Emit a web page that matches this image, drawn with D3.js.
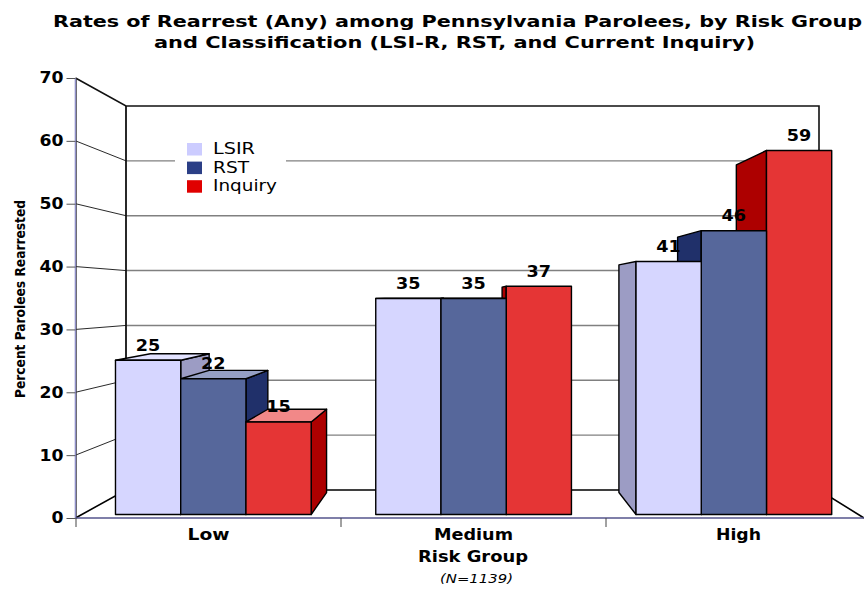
<!DOCTYPE html>
<html>
<head>
<meta charset="utf-8">
<script src="https://cdn.jsdelivr.net/npm/d3@7"></script>
<style>
  html, body { margin: 0; padding: 0; background: #fff; }
  text { font-family: "DejaVu Sans", sans-serif; fill: #000; }
</style>
</head>
<body>
<svg id="chart" width="864" height="591"></svg>
<script>
// Chart values
const categories = ["Low", "Medium", "High"];
const seriesNames = ["LSIR", "RST", "Inquiry"];
const lsirValues = [25, 35, 41];
const rstValues = [22, 35, 46];
const inquiryValues = [15, 37, 59];
const yTicks = [0, 10, 20, 30, 40, 50, 60, 70];
const titleLines = [
  "Rates of Rearrest (Any) among Pennsylvania Parolees, by Risk Group",
  "and Classification (LSI-R, RST, and Current Inquiry)"
];

const seriesValues = [lsirValues, rstValues, inquiryValues];

// Styling and text widths (labels are set wide, in the manner of Verdana)
const legendSwatch = ["#ccccff", "#2b3f86", "#e00000"];
const faceColors = [
  { front: "#d6d6ff", side: "#9c9cc4", top: "#e2e2ff" },
  { front: "#56679b", side: "#20306a", top: "#959fc4" },
  { front: "#e53535", side: "#ad0000", top: "#f28888" }
];
const titleLayout = [{ x: 53, y: 26.7, w: 809 }, { x: 154, y: 47.7, w: 601 }];
const categoryWidths = [42, 79, 45];
const legendWidths = [42, 36, 64];

const svg = d3.select("#chart");

// Box geometry: front plane of the axes and the rear wall
const frontLeft = 75.5, backLeft = 126, backRight = 819, frontRight = 864;
const yFront = d3.scaleLinear().domain([0, 70]).range([518, 78]);
const yBack = d3.scaleLinear().domain([0, 70]).range([490, 106]);

// Bars stand slightly behind the front plane and recede toward a vanishing point
const yBar = d3.scaleLinear().domain([0, 70]).range([514.5, 82.6]);
const xCat = d3.scaleBand().domain(categories).range([76, 871]);
const xBarCat = d3.scaleBand().domain(categories).range([83.2, 864]);
const barSpan = 195.7;
const barInset = (xBarCat.bandwidth() - barSpan) / 2;
const xSeries = d3.scaleBand().domain(seriesNames).range([0, barSpan]);
const vanish = { x: 465, y: 295 }, depth = 0.1;
const recede = (x, y) => [x + (vanish.x - x) * depth, y + (vanish.y - y) * depth];

const line = (pts, stroke, width) => svg.append("path")
  .attr("d", d3.line()(pts)).attr("fill", "none")
  .attr("stroke", stroke).attr("stroke-width", width);

// Grid lines on the side wall and rear wall
yTicks.filter(v => v > 0 && v < 70).forEach(v => {
  line([[frontLeft, yFront(v)], [backLeft, yBack(v)]], "#111", 0.9);
  line([[backLeft, yBack(v)], [backRight, yBack(v)]], "#808080", 1.4);
});

// Box outline
line([[frontLeft, yFront(70)], [backLeft, yBack(70)], [backRight, yBack(70)], [backRight, yBack(0)]], "#111", 1.6);
line([[backLeft, yBack(70)], [backLeft, yBack(0)]], "#111", 1.8);
line([[frontLeft, yFront(0)], [backLeft, yBack(0)], [backRight, yBack(0)], [frontRight, yFront(0)]], "#000", 1.6);

// Front axes
line([[frontLeft, yFront(70)], [frontLeft, yFront(0)]], "#8f8fc8", 1.6);
line([[frontLeft + 1, yFront(70)], [frontLeft + 1, yFront(0)]], "#222", 0.6);
line([[frontLeft, yFront(0)], [frontRight, yFront(0)]], "#55558c", 1.3);

const yAxis = d3.axisLeft(yFront).tickValues(yTicks).tickSize(9).tickPadding(3).tickFormat(d3.format("d"));
const yG = svg.append("g").attr("transform", `translate(${frontLeft},0)`).call(yAxis);
yG.select(".domain").remove();
yG.selectAll("line").attr("stroke", "#555").attr("stroke-width", 1);
yG.selectAll("text").attr("font-size", 15.5).attr("font-weight", "bold")
  .style("font-family", "'DejaVu Sans'")
  .attr("textLength", d => String(d).length * 12).attr("lengthAdjust", "spacingAndGlyphs");

const xAxis = d3.axisBottom(xCat).tickSize(0).tickPadding(10.2);
const xG = svg.append("g").attr("transform", `translate(0,${yFront(0) + 1})`).call(xAxis);
xG.select(".domain").remove();
xG.selectAll("text").attr("font-size", 15.5).attr("font-weight", "bold")
  .style("font-family", "'DejaVu Sans'")
  .attr("textLength", (d, i) => categoryWidths[i]).attr("lengthAdjust", "spacingAndGlyphs");
// Category separators sit on the band edges, not the band centres
svg.append("g").selectAll("line").data(categories).join("line")
  .attr("x1", d => xCat(d)).attr("x2", d => xCat(d))
  .attr("y1", yFront(0)).attr("y2", yFront(0) + 9)
  .attr("stroke", "#444").attr("stroke-width", 1);

// Legend panel blanks the grid behind it
svg.append("rect").attr("x", 175).attr("y", 136).attr("width", 111).attr("height", 60).attr("fill", "#fff");
seriesNames.forEach((name, i) => {
  svg.append("rect").attr("x", 187).attr("y", 143 + i * 18.6).attr("width", 15).attr("height", 12.5).attr("fill", legendSwatch[i]);
  svg.append("text").attr("x", 213).attr("y", 154.3 + i * 18.5).attr("font-size", 15.5)
    .attr("textLength", legendWidths[i]).attr("lengthAdjust", "spacingAndGlyphs").text(name);
});

// Bars, farthest from the vanishing point first so nearer faces overlap correctly
const bars = [];
categories.forEach((cat, c) => seriesNames.forEach((name, s) => {
  const x0 = xBarCat(cat) + barInset + xSeries(name), x1 = x0 + xSeries.bandwidth();
  bars.push({ value: seriesValues[s][c], s, x0, x1, dist: Math.abs((x0 + x1) / 2 - vanish.x) });
}));
bars.sort((a, b) => b.dist - a.dist);

const poly = (pts, fill) => svg.append("polygon")
  .attr("points", pts.map(p => p.join(",")).join(" "))
  .attr("fill", fill).attr("stroke", "#000").attr("stroke-width", 1.4).attr("stroke-linejoin", "round");

bars.forEach(b => {
  const top = yBar(b.value), base = yBar(0), col = faceColors[b.s];
  if (b.x1 < vanish.x) {
    poly([[b.x1, top], recede(b.x1, top), recede(b.x1, base), [b.x1, base]], col.side);
  }
  if (b.x0 > vanish.x) {
    poly([[b.x0, top], recede(b.x0, top), recede(b.x0, base), [b.x0, base]], col.side);
  }
  if (top > vanish.y) {
    poly([[b.x0, top], [b.x1, top], recede(b.x1, top), recede(b.x0, top)], col.top);
  }
  poly([[b.x0, top], [b.x1, top], [b.x1, base], [b.x0, base]], col.front);
});

// Value labels
svg.append("g").selectAll("text").data(bars).join("text")
  .attr("x", d => (d.x0 + d.x1) / 2).attr("y", d => yBar(d.value) - 9.5)
  .attr("text-anchor", "middle").attr("font-size", 15.5).attr("font-weight", "bold")
  .attr("textLength", 24.5).attr("lengthAdjust", "spacingAndGlyphs")
  .text(d => d.value);

// Titles
svg.append("g").selectAll("text").data(titleLines).join("text")
  .attr("x", (d, i) => titleLayout[i].x).attr("y", (d, i) => titleLayout[i].y)
  .attr("font-size", 16).attr("font-weight", "bold")
  .attr("textLength", (d, i) => titleLayout[i].w).attr("lengthAdjust", "spacingAndGlyphs")
  .text(d => d);

svg.append("text").attr("x", 418).attr("y", 562)
  .attr("font-size", 15.5).attr("font-weight", "bold")
  .attr("textLength", 110).attr("lengthAdjust", "spacingAndGlyphs").text("Risk Group");
svg.append("text").attr("x", 440).attr("y", 583)
  .attr("font-size", 12).attr("font-style", "italic")
  .attr("textLength", 73).attr("lengthAdjust", "spacingAndGlyphs").text("(N=1139)");
svg.append("text").attr("transform", "translate(25,398) rotate(-90)")
  .attr("font-size", 14).attr("font-weight", "bold").style("font-family", "'DejaVu Sans Condensed','DejaVu Sans'")
  .attr("font-stretch", "condensed")
  .attr("textLength", 198).attr("lengthAdjust", "spacingAndGlyphs").text("Percent Parolees Rearrested");
</script>
</body>
</html>
